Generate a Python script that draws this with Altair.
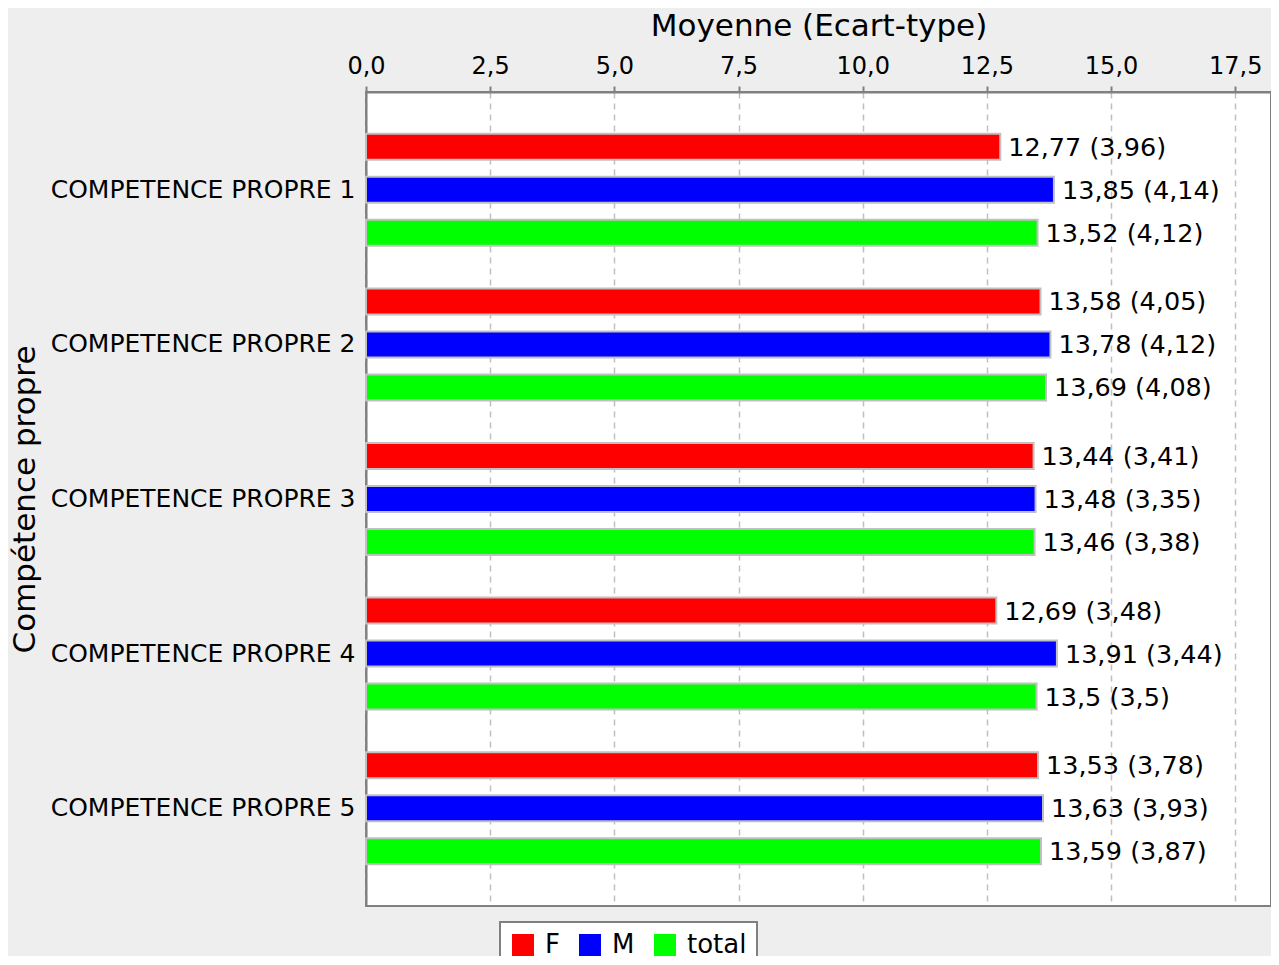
import altair as alt
import pandas as pd

categories = ["COMPETENCE PROPRE 1", "COMPETENCE PROPRE 2", "COMPETENCE PROPRE 3",
              "COMPETENCE PROPRE 4", "COMPETENCE PROPRE 5"]
series = ["F", "M", "total"]
mean_F = [12.77, 13.58, 13.44, 12.69, 13.53]
sd_F = [3.96, 4.05, 3.41, 3.48, 3.78]
mean_M = [13.85, 13.78, 13.48, 13.91, 13.63]
sd_M = [4.14, 4.12, 3.35, 3.44, 3.93]
mean_T = [13.52, 13.69, 13.46, 13.5, 13.59]
sd_T = [4.12, 4.08, 3.38, 3.5, 3.87]
colors = ["#ff0000", "#0000ff", "#00ff00"]
x_ticks = [0, 2.5, 5, 7.5, 10, 12.5, 15, 17.5]

def fr(v):
    return str(v).replace(".", ",")

rows = []
for s, means, sds in zip(series, [mean_F, mean_M, mean_T], [sd_F, sd_M, sd_T]):
    for c, m, sd in zip(categories, means, sds):
        rows.append({"cat": c, "serie": s, "mean": m, "label": f"{fr(m)} ({fr(sd)})"})
df = pd.DataFrame(rows)

FONT = "DejaVu Sans"

y_enc = alt.Y("cat:N", sort=categories,
              scale=alt.Scale(paddingInner=0, paddingOuter=0.1325),
              axis=alt.Axis(title="Compétence propre", ticks=False, tickSize=0,
                            labelPadding=11, labelFontSize=25, labelFont=FONT,
                            labelColor="black", labelLimit=400,
                            titleFontSize=31, titleFont=FONT,
                            titleFontWeight="normal", titleColor="black",
                            titleX=-341, titleY=407, titleAngle=270,
                            titleAlign="center", titleBaseline="middle",
                            domainColor="#808080", domainWidth=2,
                            grid=False))
yoff = alt.YOffset("serie:N", sort=series,
                   scale=alt.Scale(paddingInner=0.395, paddingOuter=0.495))
x_enc = alt.X("mean:Q",
              scale=alt.Scale(domain=[0, 18.22], nice=False, zero=True),
              axis=alt.Axis(orient="top", title="Moyenne (Ecart-type)", values=x_ticks,
                            labelExpr="replace(format(datum.value, '.1f'), '.', ',')",
                            labelFontSize=24, labelFont=FONT, labelColor="black",
                            titleFontSize=31, titleFont=FONT, titleFontWeight="normal",
                            titleColor="black", titlePadding=12, labelPadding=8,
                            tickSize=6, tickColor="#808080", tickWidth=2,
                            domainColor="#808080", domainWidth=2,
                            grid=True, gridDash=[6, 5], gridColor="#c0c0c0", gridWidth=1.5,
                            labelFlush=False))

base = alt.Chart(df)
bars = base.mark_bar(stroke="#c0c0c0", strokeWidth=2).encode(
    x=x_enc, y=y_enc, yOffset=yoff,
    color=alt.Color("serie:N", sort=series,
                    scale=alt.Scale(domain=series, range=colors),
                    legend=alt.Legend(title=None, orient="none", legendX=134, legendY=830,
                                      direction="horizontal", symbolType="square",
                                      symbolSize=484, symbolStrokeWidth=0,
                                      symbolOpacity=1,
                                      labelFontSize=26, labelFont=FONT, labelColor="black",
                                      labelOffset=9, columnPadding=17,
                                      padding=10, strokeColor="#808080",
                                      fillColor="white", cornerRadius=0)),
)
texts = base.mark_text(align="left", baseline="middle", dx=8, dy=1, fontSize=25.5,
                       font=FONT, color="black").encode(
    x="mean:Q", y=alt.Y("cat:N", sort=categories), yOffset=alt.YOffset("serie:N", sort=series),
    text="label:N",
)

chart = alt.layer(bars, texts).properties(
    width=905, height=814,
    autosize=alt.AutoSizeParams(type="none"),
    padding={"left": 358, "top": 84, "right": 0, "bottom": 50},
    background="#eeeeee",
).configure_view(fill="white", stroke="#808080", strokeWidth=2
).configure_legend(strokeWidth=2)

chart.save("out.html", embed_options={"renderer": "svg", "actions": False})
